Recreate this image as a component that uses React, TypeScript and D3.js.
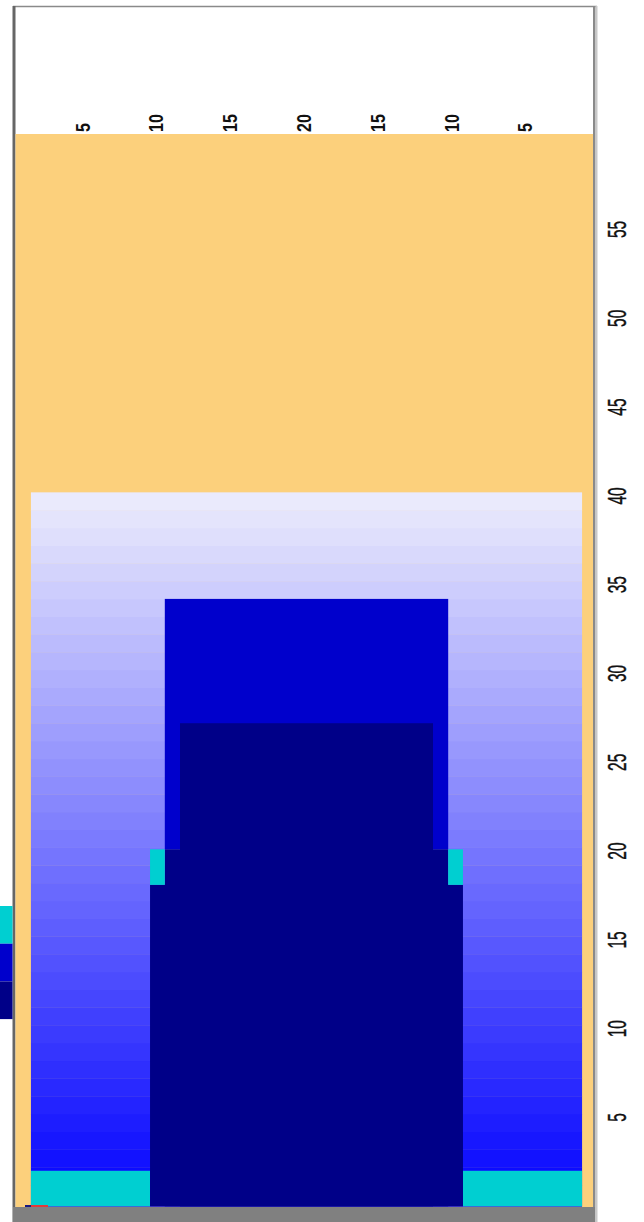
import React from "react";
import * as d3 from "d3";

// ---- data ----
const heightTicks = [5, 10, 15, 20, 25, 30, 35, 40, 45, 50, 55];
const widthTicks = [5, 10, 15, 20, 25, 30, 35];
const widthTickLabels = ["5", "10", "15", "20", "15", "10", "5"];

// gradient bands of the surrounding zone (bottom level of each band)
const bandBottoms = [
  0.2, 1.2, 2.2, 3.2, 4.2, 5.2, 6.2, 7.2, 8.2, 9.2, 10.2, 11.2, 12.2, 13.2,
  14.2, 15.2, 16.2, 17.2, 18.2, 19.2, 20.2, 21.2, 22.2, 23.2, 24.2, 25.2,
  26.2, 27.2, 28.2, 29.2, 30.2, 31.2, 32.2, 33.2, 34.2, 35.2, 36.2, 37.2,
  38.2, 39.2,
];
const zoneLeft = 1.33;
const zoneRight = 38.67;
const zoneBottom = 0;

// structural blocks
const blockU0 = [1.33, 30.6, 10.4, 9.4, 10.4, 11.43, 9.4, 29.6];
const blockU1 = [9.4, 38.67, 29.6, 30.6, 29.6, 28.57, 10.4, 30.6];
const blockV0 = [0, 0, 20.1, 0, 0, 0, 18.1, 18.1];
const blockV1 = [2.0, 2.0, 34.2, 18.1, 20.1, 27.2, 20.1, 20.1];
const blockKind = ["cyan", "cyan", "medium", "navy", "navy", "navy", "cyan", "cyan"];

const legendKinds = ["cyan", "medium", "navy"];

const kindColor: Record<string, string> = {
  cyan: "#00cfd1",
  medium: "#0000cc",
  navy: "#000088",
};

export default function App() {
  const W = 644;
  const H = 1222;

  const plotLeft = 15;
  const plotRight = 593;
  const plotTop = 134;
  const plotBottom = 1207;

  const x = d3.scaleLinear().domain([0, 40]).range([11.3, 601.7]);
  const y = d3.scaleLinear().domain([0, 60]).range([1206.3, 140.7]);

  const bandColor = (i: number) =>
    d3.interpolateRgb("#0000ff", "#f6f6fc")((i + 1) / 42);

  return (
    <svg
      width={W}
      height={H}
      style={{ position: "absolute", left: 0, top: 0, background: "#fff" }}
      fontFamily="'Liberation Sans', Arial, sans-serif"
    >
      {/* frame */}
      <line x1={13} x2={597} y1={6.5} y2={6.5} stroke="#8a8a8a" strokeWidth={1.5} />
      <rect x={12.5} y={6} width={3} height={H - 6} fill="#666" />
      <rect x={593} y={6} width={2.5} height={H - 6} fill="#8a8a8a" />
      <rect x={595.5} y={6} width={2} height={H - 6} fill="#c8c8c8" />

      <clipPath id="plotclip">
        <rect x={plotLeft} y={plotTop} width={plotRight - plotLeft} height={plotBottom - plotTop} />
      </clipPath>
      <rect
        x={plotLeft + 0.5}
        y={plotTop}
        width={plotRight - plotLeft - 0.5}
        height={plotBottom - plotTop}
        fill="#fcd07c"
      />

      <g clipPath="url(#plotclip)">
        {bandBottoms.map((b, i) => {
          const top = i === bandBottoms.length - 1 ? b + 1 : bandBottoms[i + 1];
          const bottom = i === 0 ? zoneBottom : b;
          return (
            <rect
              key={"b" + i}
              x={x(zoneLeft)}
              y={y(top)}
              width={x(zoneRight) - x(zoneLeft)}
              height={y(bottom) - y(top) + 0.4}
              fill={bandColor(i)}
            />
          );
        })}

        {blockU0.map((u0, i) => (
          <rect
            key={"k" + i}
            x={x(u0)}
            y={y(blockV1[i])}
            width={x(blockU1[i]) - x(u0)}
            height={y(blockV0[i]) - y(blockV1[i])}
            fill={kindColor[blockKind[i]]}
          />
        ))}
      </g>

      <rect x={13} y={1207} width={582} height={H - 1207} fill="#808080" />
      <rect x={25} y={1205} width={23} height={2} fill="#e03a3a" />
      <rect x={25} y={1205} width={6} height={2} fill="#1a1a80" />

      {legendKinds.map((k, i) => (
        <rect key={"lg" + i} x={0} y={906 + i * 37.7} width={12.5} height={37.7} fill={kindColor[k]} />
      ))}

      {/* top axis labels */}
      {widthTicks.map((t, i) => {
        const cx = x(t) - 2.5;
        return (
          <text
            key={"tt" + i}
            transform={`translate(${cx + 7},132) rotate(-90) scale(0.8,1)`}
            fontSize={20}
            fontWeight="bold"
            textAnchor="start"
            fill="#111"
          >
            {widthTickLabels[i]}
          </text>
        );
      })}

      {/* right axis labels */}
      {heightTicks.map((t, i) => (
        <text
          key={"rt" + i}
          transform={`translate(626,${y(t)}) rotate(-90) scale(0.62,1)`}
          fontSize={25}
          textAnchor="middle"
          fill="#111"
          stroke="#111"
          strokeWidth={0.4}
        >
          {t}
        </text>
      ))}
    </svg>
  );
}
